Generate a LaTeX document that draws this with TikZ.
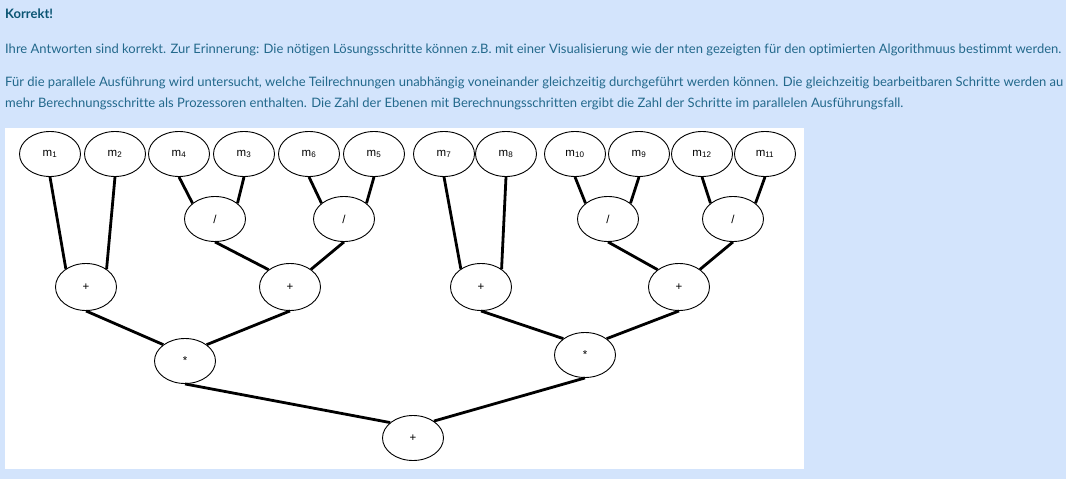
\documentclass[tikz,border=0pt]{standalone}
\usepackage{fontspec}
\setmainfont[Ligatures=CommonOff]{Lato}
\setsansfont{Liberation Sans}
\usetikzlibrary{shapes.geometric}

\definecolor{pagebg}{RGB}{211,228,252}
\definecolor{headteal}{RGB}{10,85,115}
\definecolor{bodyteal}{RGB}{35,105,140}

\begin{document}
\begin{tikzpicture}[x=1pt, y=-1pt,
    txt/.style={anchor=base west, inner sep=0pt, font=\fontsize{13}{15}\selectfont, text=bodyteal},
    op/.style={ellipse, draw, line width=0.9pt, fill=white, minimum width=61pt, minimum height=45pt, inner sep=0pt,
      font=\sffamily\fontsize{11.5}{12}\selectfont},
    edge/.style={line width=2.8pt}]
        \useasboundingbox (0,0) rectangle (1066,479);
        \fill[pagebg] (0,0) rectangle (1066,479);
        \clip (0,0) rectangle (1066,479);

        \node[txt, text=headteal] (head) at (5,19) {\bfseries Korrekt!};
        \node[txt] (line1) at (5,53) {Ihre Antworten sind korrekt. Zur Erinnerung: Die nötigen Lösungsschritte können z.B. mit einer Visualisierung wie der nten gezeigten für den optimierten Algorithmuus bestimmt werden.};
        \node[txt] (line2) at (5,86) {Für die parallele Ausführung wird untersucht, welche Teilrechnungen unabhängig voneinander gleichzeitig durchgeführt werden können. Die gleichzeitig bearbeitbaren Schritte werden au};
        \node[txt] (line3) at (5,107) {mehr Berechnungsschritte als Prozessoren enthalten. Die Zahl der Ebenen mit Berechnungsschritten ergibt die Zahl der Schritte im parallelen Ausführungsfall.};

        \fill[white] (5,128) rectangle (804,469);

        % leaves
        \node[op] (m1) at (50,154) {m\textsubscript{1}};
        \node[op] (m2) at (115,154) {m\textsubscript{2}};
        \node[op] (m4) at (179,154) {m\textsubscript{4}};
        \node[op] (m3) at (244,154) {m\textsubscript{3}};
        \node[op] (m6) at (309,154) {m\textsubscript{6}};
        \node[op] (m5) at (374,154) {m\textsubscript{5}};
        \node[op] (m7) at (444,154) {m\textsubscript{7}};
        \node[op] (m8) at (506,154) {m\textsubscript{8}};
        \node[op] (m10) at (575,154) {m\textsubscript{10}};
        \node[op] (m9) at (639,154) {m\textsubscript{9}};
        \node[op] (m12) at (702,154) {m\textsubscript{12}};
        \node[op] (m11) at (765,154) {m\textsubscript{11}};

        % divisions
        \node[op] (d1) at (215,219) {/};
        \node[op] (d2) at (344,219) {/};
        \node[op] (d3) at (608,219) {/};
        \node[op] (d4) at (733,219) {/};

        % sums
        \node[op, minimum height=47pt] (s1) at (86,287) {+};
        \node[op, minimum height=47pt] (s2) at (290,287) {+};
        \node[op, minimum height=47pt] (s3) at (481,287) {+};
        \node[op, minimum height=47pt] (s4) at (679,287) {+};

        % products
        \node[op] (p1) at (185,361) {*};
        \node[op] (p2) at (585,355) {*};

        \node[op] (root) at (413,438) {+};

        \draw[edge] (m1.south) -- (s1.138);
        \draw[edge] (m2.south) -- (s1.41);
        \draw[edge] (m4.south) -- (d1.145);
        \draw[edge] (m3.south) -- (d1.35);
        \draw[edge] (m6.south) -- (d2.145);
        \draw[edge] (m5.south) -- (d2.35);
        \draw[edge] (m7.south) -- (s3.138);
        \draw[edge] (m8.south) -- (s3.41);
        \draw[edge] (m10.south) -- (d3.145);
        \draw[edge] (m9.south) -- (d3.35);
        \draw[edge] (m12.south) -- (d4.145);
        \draw[edge] (m11.south) -- (d4.35);

        \draw[edge] (d1.south) -- (s2.141);
        \draw[edge] (d2.south) -- (s2.40);
        \draw[edge] (d3.south) -- (s4.141);
        \draw[edge] (d4.south) -- (s4.40);

        \draw[edge] (s1.south) -- (p1.143);
        \draw[edge] (s2.south) -- (p1.37);
        \draw[edge] (s3.south) -- (p2.143);
        \draw[edge] (s4.south) -- (p2.37);

        \draw[edge] (p1.south) -- (root.146);
        \draw[edge] (p2.south) -- (root.39);
      \end{tikzpicture}
\end{document}
